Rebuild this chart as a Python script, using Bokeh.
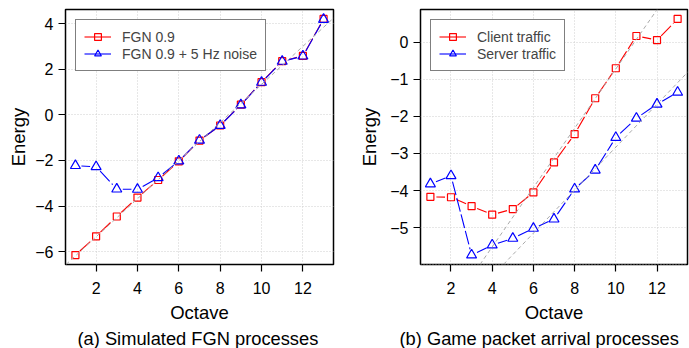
from bokeh.plotting import figure
from bokeh.layouts import row
from bokeh.models import (Range1d, FixedTicker, Slope, Legend, LegendItem, Title)
from bokeh.embed import file_html
from bokeh.resources import INLINE

# Wavelet energy per octave
octave = [1, 2, 3, 4, 5, 6, 7, 8, 9, 10, 11, 12, 13]

fgn = [-6.15, -5.33, -4.46, -3.63, -2.86, -2.04, -1.13, -0.47, 0.44, 1.43, 2.35, 2.58, 4.20]
fgn_noise = [-2.23, -2.28, -3.26, -3.27, -2.76, -2.03, -1.12, -0.47, 0.43, 1.42, 2.34, 2.57, 4.18]

client = [-4.17, -4.18, -4.42, -4.65, -4.50, -4.05, -3.24, -2.48, -1.51, -0.70, 0.17, 0.06, 0.63]
server = [-3.82, -3.60, -5.74, -5.47, -5.29, -5.02, -4.77, -3.96, -3.45, -2.57, -2.05, -1.67, -1.35]

# reference fits (slope, intercept)
fit_fgn = (0.835, -7.02)
fit_client = (0.80, -8.72)
fit_server = (0.58, -8.63)

x_ticks = [2, 4, 6, 8, 10, 12]
y_ticks_a = [-6, -4, -2, 0, 2, 4]
y_ticks_b = [-6, -5, -4, -3, -2, -1, 0]

FONT = "Liberation Sans"
W_FRAME, H_FRAME = 268, 255
NAN = float("nan")


def padded(lo, hi, frac=0.04):
    d = (hi - lo) * frac
    return lo - d, hi + d


def gapped_segments(xs, ys, xr, yr, gap=6.0):
    """Segments between consecutive points, trimmed around each marker (screen px)."""
    sx = W_FRAME / (xr[1] - xr[0])
    sy = H_FRAME / (yr[1] - yr[0])
    x0s, y0s, x1s, y1s = [], [], [], []
    for i in range(len(xs) - 1):
        dx = (xs[i + 1] - xs[i]) * sx
        dy = (ys[i + 1] - ys[i]) * sy
        L = (dx * dx + dy * dy) ** 0.5
        if L <= 2 * gap:
            continue
        f = gap / L
        x0s.append(xs[i] + f * dx / sx)
        y0s.append(ys[i] + f * dy / sy)
        x1s.append(xs[i + 1] - f * dx / sx)
        y1s.append(ys[i + 1] - f * dy / sy)
    return x0s, y0s, x1s, y1s


def minus(v):
    return ("\u2212%d" % -v) if v < 0 else "%d" % v


def panel(series, fit_list, y_ticks, caption, cap_offset, width, left_border,
          right_border, ylabel_standoff):
    all_y = [v for _, vals, _, _, _ in series for v in vals]
    xr = padded(min(octave), max(octave))
    yr = padded(min(all_y), max(all_y))
    p = figure(width=width, height=348, output_backend="svg", toolbar_location=None,
               x_range=Range1d(*xr), y_range=Range1d(*yr),
               min_border_left=left_border, min_border_right=right_border,
               min_border_top=9, min_border_bottom=84)
    p.background_fill_color = "white"
    p.border_fill_color = "white"
    p.outline_line_color = "black"
    p.outline_line_width = 1.5

    for ax in (p.xaxis[0], p.yaxis[0]):
        ax.axis_line_color = None
        ax.major_tick_line_color = "black"
        ax.major_tick_line_width = 1.2
        ax.minor_tick_line_color = None
        ax.major_tick_in = 0
        ax.major_tick_out = 7
        ax.major_label_text_font = FONT
        ax.major_label_text_font_size = "16px"
        ax.major_label_text_color = "black"
        ax.axis_label_text_font = FONT
        ax.axis_label_text_font_size = "18.5px"
        ax.axis_label_text_font_style = "normal"
        ax.axis_label_text_color = "black"

    p.xaxis.ticker = FixedTicker(ticks=x_ticks)
    p.yaxis.ticker = FixedTicker(ticks=y_ticks)
    p.yaxis.major_label_overrides = {t: minus(t) for t in y_ticks}
    p.yaxis.major_label_orientation = "horizontal"
    p.xaxis.axis_label = "Octave"
    p.yaxis.axis_label = "Energy"
    p.xaxis.major_label_standoff = 10
    p.yaxis.major_label_standoff = 5
    p.xaxis.axis_label_standoff = 5
    p.yaxis.axis_label_standoff = ylabel_standoff

    p.grid.grid_line_color = "#cfcfcf"
    p.grid.grid_line_dash = "1 2"
    p.grid.grid_line_width = 1

    for slope, icpt in fit_list:
        p.add_layout(Slope(gradient=slope, y_intercept=icpt, line_color="#aaaaaa",
                           line_dash="4 3", line_width=1))

    items = []
    for label, vals, color, marker, msize in series:
        x0, y0, x1, y1 = gapped_segments(octave, vals, xr, yr)
        p.segment(x0, y0, x1, y1, line_color=color, line_width=1.1, line_dash="14 3")
        p.scatter(octave, vals, marker=marker, size=msize, line_color=color,
                  fill_color=None, line_width=1.2)
        # legend swatch: solid line with marker (no visible data)
        lr = p.line([NAN], [NAN], line_color=color, line_width=1.1)
        mr = p.scatter([NAN], [NAN], marker=marker, size=msize, line_color=color,
                       fill_color=None, line_width=1.2)
        items.append(LegendItem(label=label, renderers=[lr, mr]))

    leg = Legend(items=items, location="top_left", margin=10, padding=8, spacing=0,
                 glyph_width=27, glyph_height=17, label_height=17, label_standoff=11,
                 label_text_font=FONT, label_text_font_size="14px",
                 border_line_color="black", border_line_width=1.3,
                 background_fill_color="white", background_fill_alpha=1.0)
    p.add_layout(leg)

    p.add_layout(Title(text=caption, align="left", offset=cap_offset, standoff=0,
                       text_font=FONT, text_font_size="18.3px", text_font_style="normal",
                       text_color="black"), "below")
    return p


pa = panel([("FGN 0.9", fgn, "#ff0000", "square", 7),
            ("FGN 0.9 + 5 Hz noise", fgn_noise, "#0000ff", "triangle", 10)],
           [fit_fgn], y_ticks_a, "(a) Simulated FGN processes", 12, 345, 65, 12, 3)

pb = panel([("Client traffic", client, "#ff0000", "square", 7),
            ("Server traffic", server, "#0000ff", "triangle", 10)],
           [fit_client, fit_server], y_ticks_b, "(b) Game packet arrival processes", -21,
           344, 75, 2, 7)

layout = row(pa, pb, spacing=0)
open("out.html", "w").write(file_html(layout, INLINE))
